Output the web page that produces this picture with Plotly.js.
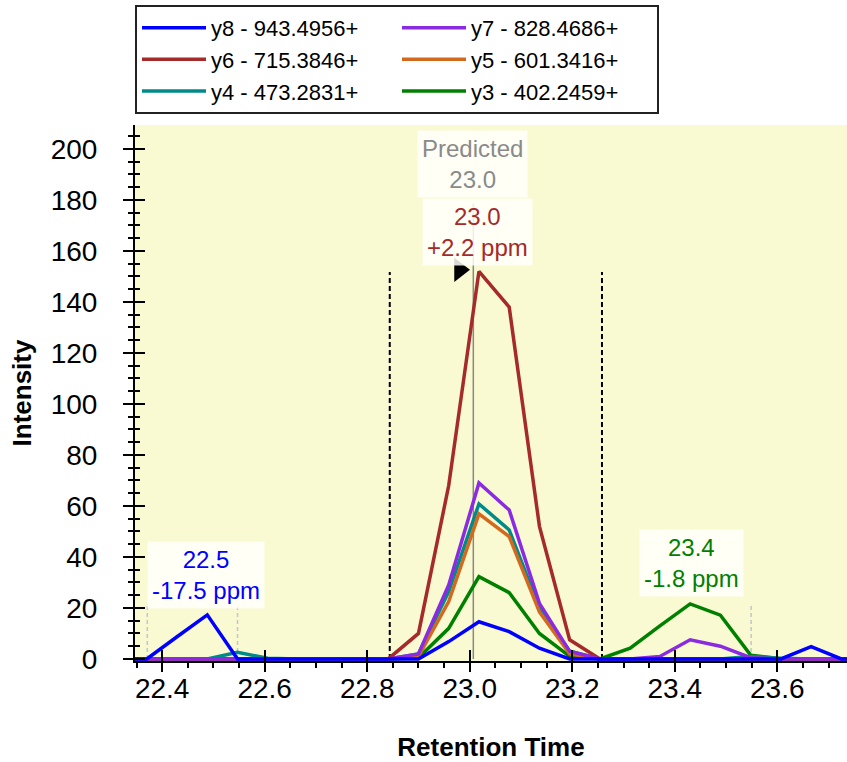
<!DOCTYPE html>
<html><head><meta charset="utf-8">
<script src="https://cdn.plot.ly/plotly-3.0.1.min.js"></script>
<style>html,body{margin:0;padding:0;background:#fff}#chart{width:847px;height:762px}</style>
</head><body><div id="chart"></div>
<script>
// Retention time (min) of each scan
const retentionTime = [22.311, 22.370, 22.429, 22.488, 22.547, 22.606, 22.665, 22.723, 22.782, 22.841, 22.900, 22.959, 23.018, 23.077, 23.136, 23.195, 23.254, 23.313, 23.371, 23.430, 23.489, 23.548, 23.607, 23.666, 23.725, 23.784];
// Transition intensities
const y8 = [0, 0, 8.7, 17.3, 0, 0, 0, 0, 0, 0, 0, 6.8, 14.6, 10.7, 4.2, 0, 0, 0, 0, 0, 0, 0, 0, 4.8, 0, 0];
const y7 = [0, 0, 0, 0, 0, 0, 0, 0, 0, 0, 2, 29, 69, 58.4, 21.8, 3, 0, 0, 1, 7.5, 5, 0.5, 0, 0, 0, 0];
const y6 = [0, 0, 0, 0, 0, 0, 0, 0, 0, 0, 10, 68, 152, 138, 52, 7.5, 0, 0, 0, 0, 0, 0, 0, 0, 0, 0];
const y5 = [0, 0, 0, 0, 0, 0, 0, 0, 0, 0, 1, 22.5, 56.9, 48, 18.5, 2, 0, 0, 0, 0, 0, 0, 0, 0, 0, 0];
const y4 = [0, 0, 0, 0, 2.6, 0.3, 0, 0, 0, 0, 2, 26.4, 60.8, 50.6, 20, 3, 0, 0, 0, 0, 0, 1, 0.3, 0, 0, 0];
const y3 = [0, 0, 0, 0, 0, 0, 0, 0, 0, 0, 0.5, 12, 32.3, 26, 10, 1, 0, 4.2, 13, 21.6, 17.2, 1.5, 0, 0, 0, 0];

const seriesNames = ['y3 - 402.2459+', 'y4 - 473.2831+', 'y5 - 601.3416+', 'y6 - 715.3846+', 'y7 - 828.4686+', 'y8 - 943.4956+'];
const seriesValues = [y3, y4, y5, y6, y7, y8];
const seriesColors = ['#008000', '#008b8b', '#d2691e', '#a52a2a', '#8a2be2', '#0000ff'];

// Peak integration boundaries (chosen peak) and other peak boundaries
const chosenBoundaries = [22.844, 23.258];
const chosenBoundaryTop = 151.8;
const predictedRT = 23.007;
const predictedLineTop = 178.6;
const otherBoundaries = [22.371, 22.547, 23.549];
const otherBoundaryTop = 21.2;
// Apex flag
const apexFlagRT = [22.980];
const apexFlagIntensity = [152.6];

// Peak labels
const labelTexts = ['Predicted<br>23.0', '23.0<br>+2.2 ppm', '22.5<br>-17.5 ppm', '23.4<br>-1.8 ppm'];
const labelRT = [23.006, 23.016, 22.486, 23.433];
const labelIntensity = [194.1, 167.5, 32.9, 37.6];
const labelColors = ['#8a8a8a', '#a52a2a', '#0000ff', '#008000'];

const FONT = 'Arial, "Liberation Sans", sans-serif';
const xRange = [22.347, 23.736];
const yRange = [-0.8, 209.4];

const traces = seriesValues.map((vals, i) => ({
  type: 'scatter', mode: 'lines', name: seriesNames[i],
  x: retentionTime, y: vals,
  line: {color: seriesColors[i], width: 3.5},
  hoverinfo: 'x+y+name'
}));
traces.push({
  type: 'scatter', mode: 'markers', x: apexFlagRT, y: apexFlagIntensity,
  marker: {symbol: 'triangle-right', size: 21, color: '#000'},
  showlegend: false, hoverinfo: 'skip'
});
traces.push({type: 'scatter', x: [], y: [], xaxis: 'x2', yaxis: 'y2', showlegend: false, hoverinfo: 'skip'});

const shapes = [];
chosenBoundaries.forEach(b => shapes.push({type: 'line', xref: 'x', yref: 'y', x0: b, x1: b, y0: 0, y1: chosenBoundaryTop, layer: 'below', line: {color: '#000', width: 2, dash: '5px,3px'}}));
shapes.push({type: 'line', xref: 'x', yref: 'y', x0: predictedRT, x1: predictedRT, y0: 0, y1: predictedLineTop, layer: 'below', line: {color: '#888', width: 1.5}});
otherBoundaries.forEach(b => shapes.push({type: 'line', xref: 'x', yref: 'y', x0: b, x1: b, y0: 0, y1: otherBoundaryTop, layer: 'below', line: {color: '#c4c4d4', width: 1.5, dash: '4px,3px'}}));

const annotations = labelTexts.map((t, i) => ({
  xref: 'x', yref: 'y', x: labelRT[i], y: labelIntensity[i], text: t, showarrow: false,
  xanchor: 'center', yanchor: 'middle', align: 'center',
  font: {family: FONT, size: 24, color: labelColors[i]},
  bgcolor: 'rgba(255,255,252,0.85)', borderpad: 4
}));

const layout = {
  width: 847, height: 762,
  margin: {l: 135, r: 0, t: 125, b: 101},
  paper_bgcolor: '#fff', plot_bgcolor: '#fafad2',
  font: {family: FONT, color: '#000'},
  showlegend: true,
  legend: {
    orientation: 'h', x: 0, xanchor: 'left', y: 1.224, yanchor: 'top',
    bgcolor: '#fff', bordercolor: '#222', borderwidth: 2,
    font: {family: FONT, size: 22, color: '#000'},
    itemwidth: 64, entrywidth: 181, traceorder: 'reversed'
  },
  xaxis: {
    range: xRange, showgrid: false, zeroline: false,
    showline: true, linecolor: '#000', linewidth: 2,
    ticks: 'outside', ticklen: 9, tickwidth: 2, tickcolor: '#000',
    tick0: 22.4, dtick: 0.2, tickformat: '.1f',
    minor: {ticks: 'outside', ticklen: 5, tickwidth: 1.5, tickcolor: '#000', dtick: 0.05, showgrid: false},
    tickfont: {family: FONT, size: 28, color: '#000'}, ticklabelstandoff: -8,
    title: {text: 'Retention Time', font: {family: FONT, size: 26, color: '#000', weight: 'bold'}, standoff: 36}
  },
  yaxis: {
    range: yRange, showgrid: false, zeroline: false,
    showline: true, linecolor: '#000', linewidth: 2,
    ticks: 'outside', ticklen: 10, tickwidth: 2, tickcolor: '#000',
    tick0: 0, dtick: 20,
    minor: {ticks: 'outside', ticklen: 5, tickwidth: 1.5, tickcolor: '#000', dtick: 5, showgrid: false},
    tickfont: {family: FONT, size: 28, color: '#000'}, ticklabelstandoff: 20,
    title: {text: 'Intensity', font: {family: FONT, size: 26, color: '#000', weight: 'bold'}, standoff: 12}
  },
  xaxis2: {
    overlaying: 'x', anchor: 'y2', side: 'bottom', range: xRange, showgrid: false, zeroline: false,
    showline: false, ticks: 'inside', ticklen: 11, tickwidth: 2, tickcolor: '#000',
    tick0: 22.4, dtick: 0.2, showticklabels: false
  },
  yaxis2: {
    overlaying: 'y', anchor: 'x2', side: 'left', range: yRange, showgrid: false, zeroline: false,
    showline: false, ticks: 'inside', ticklen: 10, tickwidth: 2, tickcolor: '#000',
    tick0: 0, dtick: 20, showticklabels: false,
    minor: {ticks: 'inside', ticklen: 5, tickwidth: 1.5, tickcolor: '#000', dtick: 5, showgrid: false}
  },
  shapes: shapes,
  annotations: annotations
};

Plotly.newPlot('chart', traces, layout, {displayModeBar: false});
</script>
</body></html>
